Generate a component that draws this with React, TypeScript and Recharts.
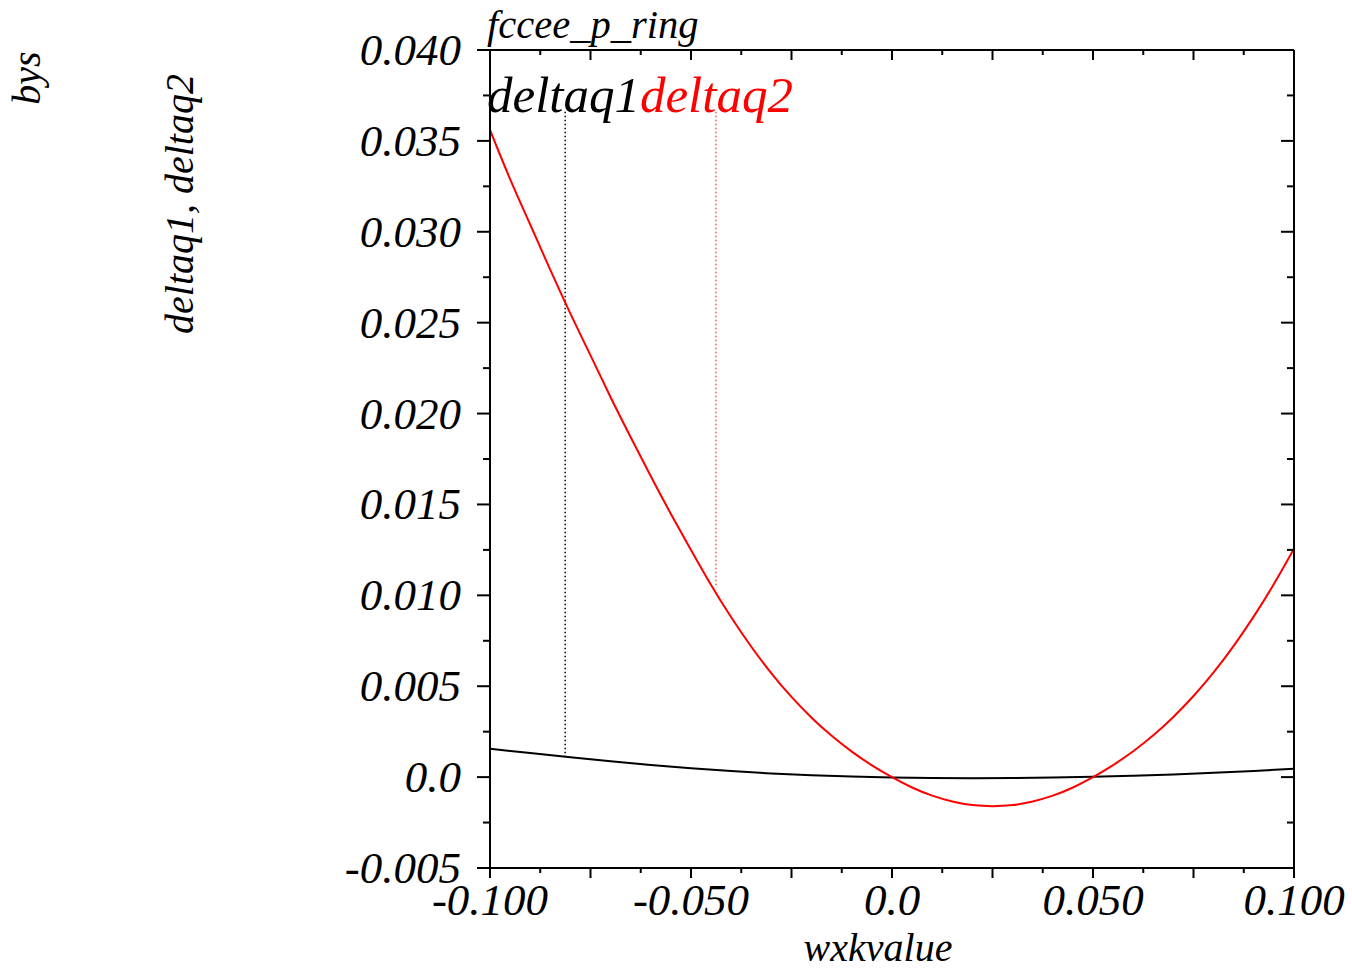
import React from 'react';
import { LineChart, Line, XAxis, YAxis, ReferenceLine, Customized } from 'recharts';

// deltaq1 (black)
const wxk1 = [-0.1, -0.09, -0.08, -0.07, -0.06, -0.05, -0.04, -0.03, -0.02, -0.01, 0, 0.01, 0.02, 0.03, 0.04, 0.05, 0.06, 0.07, 0.08, 0.09, 0.1];
const deltaq1 = [0.00156, 0.00132, 0.00109, 0.00087, 0.00067, 0.00049, 0.00033, 0.0002, 0.0001, 0.00003, -0.00002, -0.00005, -0.00006, -0.00005, -0.00002, 0.00002, 0.00008, 0.00015, 0.00024, 0.00034, 0.00046];

// deltaq2 (red)
const wxk2 = [-0.1, -0.095, -0.09, -0.085, -0.08, -0.075, -0.07, -0.065, -0.06, -0.055, -0.05, -0.045, -0.04, -0.035, -0.03, -0.025, -0.02, -0.015, -0.01, -0.005, 0, 0.005, 0.01, 0.015, 0.02, 0.025, 0.03, 0.035, 0.04, 0.045, 0.05, 0.055, 0.06, 0.065, 0.07, 0.075, 0.08, 0.085, 0.09, 0.095, 0.1];
const deltaq2 = [0.0356, 0.0329, 0.0304, 0.0279, 0.0255, 0.0232, 0.0209, 0.0187, 0.01655, 0.01448, 0.0125, 0.01057, 0.00879, 0.00717, 0.00571, 0.00441, 0.00327, 0.00227, 0.0014, 0.00065, 0, -0.00057, -0.00102, -0.00134, -0.00154, -0.0016, -0.00154, -0.00134, -0.00102, -0.00057, 0, 0.00066, 0.00142, 0.0023, 0.00331, 0.00446, 0.00576, 0.00722, 0.00884, 0.01062, 0.01256];

// legend marker lines (x position, top value, bottom value)
const marker1 = { x: -0.0813, top: 0.0366, bottom: 0.00116 };
const marker2 = { x: -0.0438, top: 0.0366, bottom: 0.0104 };

// axes
const xDomain = [-0.1, 0.1];
const yDomain = [-0.005, 0.04];
const xTicks = [-0.1, -0.0875, -0.075, -0.0625, -0.05, -0.0375, -0.025, -0.0125, 0, 0.0125, 0.025, 0.0375, 0.05, 0.0625, 0.075, 0.0875, 0.1];
const xMajor = [-0.1, -0.075, -0.05, -0.025, 0, 0.025, 0.05, 0.075, 0.1];
const xLabelValues = [-0.1, -0.05, 0, 0.05, 0.1];
const xLabels = ['-0.100', '-0.050', '0.0', '0.050', '0.100'];
const yTicks = [-0.005, -0.0025, 0, 0.0025, 0.005, 0.0075, 0.01, 0.0125, 0.015, 0.0175, 0.02, 0.0225, 0.025, 0.0275, 0.03, 0.0325, 0.035, 0.0375, 0.04];
const yLabelValues = [-0.005, 0, 0.005, 0.01, 0.015, 0.02, 0.025, 0.03, 0.035, 0.04];
const yLabels = ['-0.005', '0.0', '0.005', '0.010', '0.015', '0.020', '0.025', '0.030', '0.035', '0.040'];

const series1 = wxk1.map((x, i) => ({ x, v: deltaq1[i] }));
const series2 = wxk2.map((x, i) => ({ x, v: deltaq2[i] }));

const FONT = "'Liberation Serif', 'Times New Roman', serif";
const idxOf = (v: number, arr: number[]) => arr.findIndex((t) => Math.abs(t - v) < 1e-9);

const BottomTick = (props: any) => {
  const { x, y, payload } = props;
  const v = payload.value;
  const major = idxOf(v, xMajor) >= 0;
  const li = idxOf(v, xLabelValues);
  return (
    <g>
      <line x1={x} y1={y} x2={x} y2={y + (major ? 10 : 5)} stroke="#000" strokeWidth={2} />
      {li >= 0 && (
        <text x={x} y={y + 47} textAnchor="middle" fontFamily={FONT} fontStyle="italic" fontSize={45} fill="#000">
          {xLabels[li]}
        </text>
      )}
    </g>
  );
};

const TopTick = (props: any) => {
  const { x, y, payload } = props;
  const major = idxOf(payload.value, xMajor) >= 0;
  return <line x1={x} y1={y} x2={x} y2={y + (major ? 10 : 5)} stroke="#000" strokeWidth={2} />;
};

const LeftTick = (props: any) => {
  const { x, y, payload } = props;
  const v = payload.value;
  const li = idxOf(v, yLabelValues);
  const major = li >= 0;
  return (
    <g>
      <line x1={x - (major ? 13 : 7)} y1={y} x2={x} y2={y} stroke="#000" strokeWidth={2} />
      {li >= 0 && (
        <text x={x - 29} y={y + 15} textAnchor="end" fontFamily={FONT} fontStyle="italic" fontSize={45} fill="#000">
          {yLabels[li]}
        </text>
      )}
    </g>
  );
};

const RightTick = (props: any) => {
  const { x, y, payload } = props;
  const major = idxOf(payload.value, yLabelValues) >= 0;
  return <line x1={x - (major ? 13 : 7)} y1={y} x2={x} y2={y} stroke="#000" strokeWidth={2} />;
};

const Texts = () => (
  <g fontFamily={FONT} fontStyle="italic">
    <text x={487} y={38} fontSize={40.5} fill="#000">fccee_p_ring</text>
    <text x={487} y={112} fontSize={51}>
      <tspan fill="#000">deltaq1</tspan>
      <tspan fill="#ff0000">deltaq2</tspan>
    </text>
    <text x={40} y={78} fontSize={40} fill="#000" textAnchor="middle" transform="rotate(-90 40 78)">bys</text>
    <text x={193} y={204} fontSize={40} fill="#000" textAnchor="middle" transform="rotate(-90 193 204)">deltaq1, deltaq2</text>
    <text x={878} y={961} fontSize={40} fill="#000" textAnchor="middle">wxkvalue</text>
  </g>
);

export default function App() {
  return (
    <div style={{ position: 'absolute', left: 0, top: 0, width: 1352, height: 971, background: '#fff' }}>
      <LineChart width={1352} height={971} margin={{ top: 40, right: 48, bottom: 43, left: 390 }}>
        <XAxis
          xAxisId="b"
          dataKey="x"
          type="number"
          orientation="bottom"
          domain={xDomain}
          ticks={xTicks}
          interval={0}
          allowDataOverflow
          height={60}
          tickSize={0}
          tickMargin={0}
          tickLine={false}
          axisLine={{ stroke: '#000', strokeWidth: 2 }}
          tick={<BottomTick />}
        />
        <XAxis
          xAxisId="t"
          dataKey="x"
          type="number"
          orientation="top"
          domain={xDomain}
          ticks={xTicks}
          interval={0}
          allowDataOverflow
          height={10}
          tickSize={0}
          tickMargin={0}
          tickLine={false}
          axisLine={{ stroke: '#000', strokeWidth: 2 }}
          tick={<TopTick />}
        />
        <YAxis
          yAxisId="l"
          type="number"
          orientation="left"
          domain={yDomain}
          ticks={yTicks}
          interval={0}
          allowDataOverflow
          width={100}
          tickSize={0}
          tickMargin={0}
          tickLine={false}
          axisLine={{ stroke: '#000', strokeWidth: 2 }}
          tick={<LeftTick />}
        />
        <YAxis
          yAxisId="r"
          type="number"
          orientation="right"
          domain={yDomain}
          ticks={yTicks}
          interval={0}
          allowDataOverflow
          width={10}
          tickSize={0}
          tickMargin={0}
          tickLine={false}
          axisLine={{ stroke: '#000', strokeWidth: 2 }}
          tick={<RightTick />}
        />
        <ReferenceLine
          xAxisId="b"
          yAxisId="l"
          segment={[{ x: marker1.x, y: marker1.top }, { x: marker1.x, y: marker1.bottom }]}
          stroke="#000"
          strokeWidth={1.5}
          strokeDasharray="1.5 2.5"
        />
        <ReferenceLine
          xAxisId="b"
          yAxisId="l"
          segment={[{ x: marker2.x, y: marker2.top }, { x: marker2.x, y: marker2.bottom }]}
          stroke="#ff5555"
          strokeWidth={1.5}
          strokeDasharray="1.5 2.5"
        />
        <Line
          xAxisId="b"
          yAxisId="l"
          data={series1}
          dataKey="v"
          type="natural"
          stroke="#000"
          strokeWidth={2}
          dot={false}
          isAnimationActive={false}
        />
        <Line
          xAxisId="b"
          yAxisId="l"
          data={series2}
          dataKey="v"
          type="natural"
          stroke="#ff0000"
          strokeWidth={2}
          dot={false}
          isAnimationActive={false}
        />
        <Customized component={Texts} />
      </LineChart>
    </div>
  );
}
